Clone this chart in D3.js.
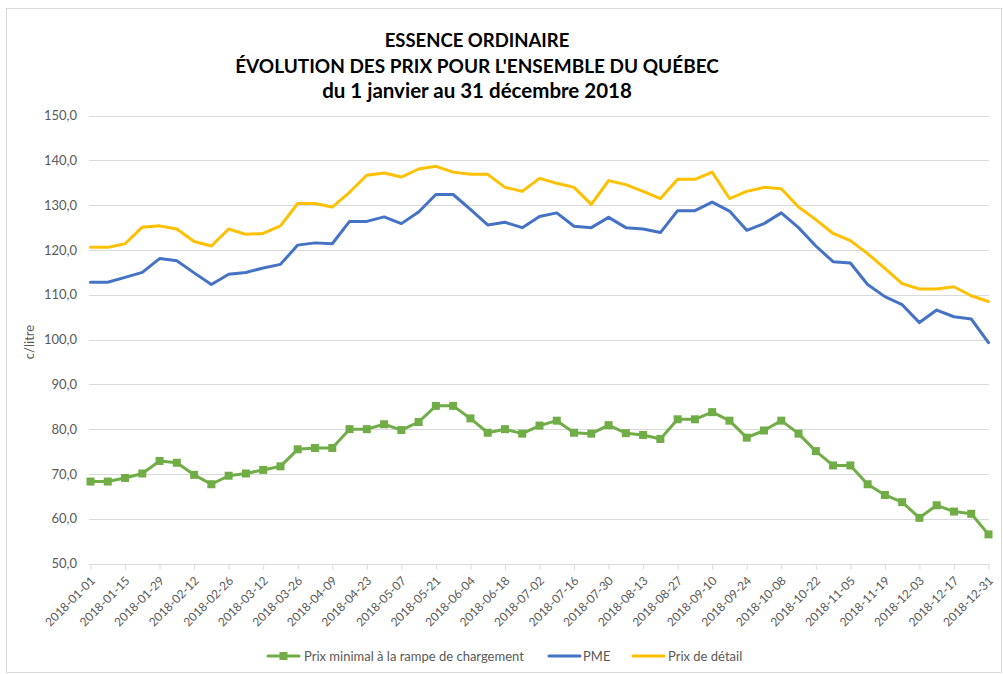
<!DOCTYPE html>
<html>
<head>
<meta charset="utf-8">
<script src="https://cdn.jsdelivr.net/npm/d3@7"></script>
<style>
  body { margin: 0; background: #fff; }
  svg { display: block; font-family: Lato, "Open Sans", sans-serif; }
</style>
</head>
<body>
<div id="chart"></div>
<script>
// semaines de 2018
var categories = ["2018-01-01","2018-01-08","2018-01-15","2018-01-22","2018-01-29","2018-02-05","2018-02-12","2018-02-19","2018-02-26",
  "2018-03-05","2018-03-12","2018-03-19","2018-03-26","2018-04-02","2018-04-09","2018-04-16","2018-04-23","2018-04-30",
  "2018-05-07","2018-05-14","2018-05-21","2018-05-28","2018-06-04","2018-06-11","2018-06-18","2018-06-25","2018-07-02",
  "2018-07-09","2018-07-16","2018-07-23","2018-07-30","2018-08-06","2018-08-13","2018-08-20","2018-08-27","2018-09-03",
  "2018-09-10","2018-09-17","2018-09-24","2018-10-01","2018-10-08","2018-10-15","2018-10-22","2018-10-29","2018-11-05",
  "2018-11-12","2018-11-19","2018-11-26","2018-12-03","2018-12-10","2018-12-17","2018-12-24","2018-12-31"];

var rampe = [68.3,68.3,69.1,70.1,72.9,72.5,69.8,67.7,69.6,70.1,70.9,71.7,75.5,75.8,75.8,80.0,80.0,81.1,
  79.8,81.6,85.2,85.2,82.4,79.2,80.0,79.0,80.8,81.9,79.2,79.0,80.9,79.1,78.7,77.8,82.2,82.2,
  83.8,81.9,78.1,79.7,81.9,79.0,75.1,71.9,71.9,67.7,65.3,63.7,60.2,63.0,61.6,61.1,56.5];

var pme = [112.8,112.8,113.9,115.0,118.1,117.6,114.9,112.3,114.6,115.0,116.0,116.8,121.1,121.6,121.4,126.4,126.4,127.4,
  125.9,128.5,132.4,132.4,129.1,125.6,126.2,125.0,127.5,128.3,125.3,125.0,127.3,125.0,124.7,123.9,128.8,128.8,
  130.7,128.7,124.4,125.9,128.3,125.0,120.9,117.4,117.1,112.3,109.6,107.8,103.8,106.6,105.1,104.6,99.3];

var detail = [120.6,120.6,121.4,125.1,125.4,124.7,121.9,120.9,124.7,123.5,123.7,125.4,130.4,130.4,129.6,132.9,136.7,137.2,
  136.3,138.1,138.7,137.4,136.9,136.9,134.0,133.1,136.0,134.9,134.0,130.2,135.5,134.6,133.1,131.5,135.8,135.8,
  137.4,131.5,133.1,134.0,133.7,129.6,126.8,123.7,122.1,119.2,115.9,112.5,111.3,111.3,111.8,109.8,108.5];

var yTicks = [50,60,70,80,90,100,110,120,130,140,150];

var series = [
  {name: "Prix minimal à la rampe de chargement", values: rampe, color: "#70AD47", marker: true},
  {name: "PME", values: pme, color: "#4472C4", marker: false},
  {name: "Prix de détail", values: detail, color: "#FFC000", marker: false}
];

var W = 1003, H = 674;
var svg = d3.select("#chart").append("svg").attr("width", W).attr("height", H);

// cadre
svg.append("rect").attr("x", 6.5).attr("y", 8.5).attr("width", 995).attr("height", 664)
  .attr("fill", "#fff").attr("stroke", "#D9D9D9").attr("stroke-width", 1);

// titre
var titre = ["ESSENCE ORDINAIRE", "ÉVOLUTION DES PRIX POUR L'ENSEMBLE DU QUÉBEC", "du 1 janvier au 31 décembre 2018"];
var titreTaille = [18.5, 19, 20.5];
svg.selectAll(".titre").data(titre).enter().append("text")
  .attr("class", "titre")
  .attr("x", 477).attr("y", function(d, i) { return 47 + i * 25.5; })
  .attr("text-anchor", "middle")
  .attr("font-size", function(d, i) { return titreTaille[i]; })
  .attr("font-weight", "bold").attr("fill", "#000")
  .text(function(d) { return d; });

var x = d3.scalePoint().domain(categories).range([90.5, 988.5]);
var y = d3.scaleLinear().domain([50, 150]).range([563.5, 115.7]);

// grille
svg.append("g").selectAll("line").data(yTicks.slice(1)).enter().append("line")
  .attr("x1", 89).attr("x2", 989)
  .attr("y1", function(d) { return Math.round(y(d)) + 0.5; })
  .attr("y2", function(d) { return Math.round(y(d)) + 0.5; })
  .attr("stroke", "#D9D9D9").attr("stroke-width", 1);

// axe y
var yAxis = d3.axisLeft(y).tickValues(yTicks).tickSize(0).tickPadding(0)
  .tickFormat(function(d) { return d3.format(".1f")(d).replace(".", ","); });
var yAxisG = svg.append("g").attr("transform", "translate(77,0)").call(yAxis);
yAxisG.select(".domain").remove();
yAxisG.selectAll("text").attr("font-family", "Lato, sans-serif").attr("font-size", 13).attr("fill", "#595959");

// axe x
var xAxis = d3.axisBottom(x)
  .tickValues(categories.filter(function(d, i) { return i % 2 === 0; }))
  .tickSize(5).tickSizeOuter(0);
var xAxisG = svg.append("g").attr("transform", "translate(0," + (Math.round(y(50)) + 0.5) + ")").call(xAxis);
xAxisG.select(".domain").attr("stroke", "#D9D9D9").attr("d", "M89,0H989");
xAxisG.selectAll(".tick line").attr("stroke", "#D9D9D9");
xAxisG.selectAll("text")
  .attr("font-family", "Lato, sans-serif").attr("font-size", 12).attr("fill", "#595959")
  .attr("text-anchor", "end")
  .attr("dy", "0.35em")
  .attr("transform", "translate(2,14) rotate(-45)")
  .attr("x", 0).attr("y", 0);

// titre axe y
svg.append("text")
  .attr("transform", "translate(34,342) rotate(-90)")
  .attr("text-anchor", "middle")
  .attr("font-size", 13).attr("fill", "#595959")
  .text("c/litre");

// lignes
var line = d3.line()
  .x(function(d, i) { return x(categories[i]); })
  .y(function(d) { return y(d); });

var g = svg.append("g");
series.slice().reverse().forEach(function(s) {
  g.append("path").datum(s.values)
    .attr("fill", "none").attr("stroke", s.color).attr("stroke-width", 3)
    .attr("stroke-linejoin", "round").attr("stroke-linecap", "round")
    .attr("d", line);
  if (s.marker) {
    g.selectAll(".mk").data(s.values).enter().append("rect")
      .attr("class", "mk")
      .attr("x", function(d, i) { return x(categories[i]) - 4; })
      .attr("y", function(d) { return y(d) - 4; })
      .attr("width", 8).attr("height", 8)
      .attr("fill", s.color);
  }
});

// légende
var legendPos = [{x: 268, tx: 304}, {x: 549, tx: 583}, {x: 633, tx: 668}];
var ly = 656;
series.forEach(function(s, i) {
  var p = legendPos[i];
  svg.append("line").attr("x1", p.x).attr("x2", p.x + 31).attr("y1", ly).attr("y2", ly)
    .attr("stroke", s.color).attr("stroke-width", 3).attr("stroke-linecap", "round");
  if (s.marker) {
    svg.append("rect").attr("x", p.x + 11.5).attr("y", ly - 4).attr("width", 8).attr("height", 8).attr("fill", s.color);
  }
  svg.append("text").attr("x", p.tx).attr("y", ly).attr("dy", "0.35em")
    .attr("font-size", 13).attr("fill", "#595959")
    .text(s.name);
});
</script>
</body>
</html>
